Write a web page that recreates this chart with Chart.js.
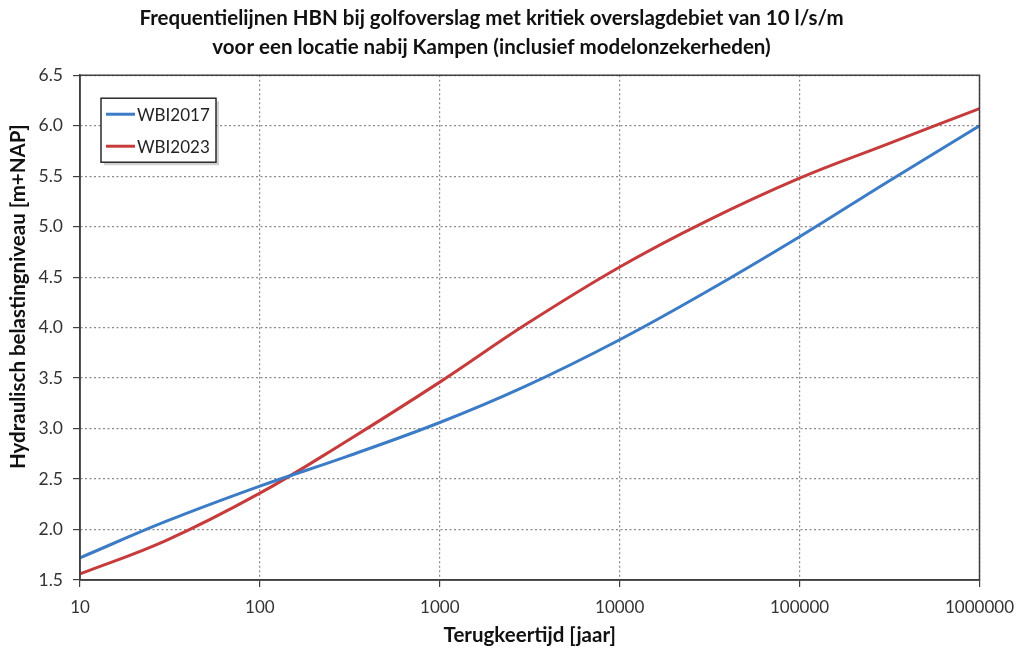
<!DOCTYPE html>
<html>
<head>
<meta charset="utf-8">
<script src="https://cdn.jsdelivr.net/npm/chart.js@4/dist/chart.umd.min.js"></script>
<style>
  html, body { margin: 0; padding: 0; background: #ffffff; }
  #wrap { width: 1024px; height: 652px; }
</style>
</head>
<body>
<div id="wrap"><canvas id="c" width="1024" height="652"></canvas></div>
<script>
// Return periods (years) at which the curves are sampled
const returnPeriods = [10, 30, 100, 300, 1000, 3000, 10000, 30000, 100000, 300000, 1000000];
// Hydraulic load level [m+NAP]
const wbi2017 = [1.72, 2.08, 2.43, 2.72, 3.06, 3.42, 3.88, 4.35, 4.90, 5.43, 6.00];
const wbi2023 = [1.56, 1.89, 2.36, 2.87, 3.46, 4.03, 4.60, 5.05, 5.48, 5.81, 6.17];
const seriesNames = ['WBI2017', 'WBI2023'];
const xTickValues = [10, 100, 1000, 10000, 100000, 1000000];
const yMin = 1.5, yMax = 6.5, yStep = 0.5;

const titleLines = ['Frequentielijnen HBN bij golfoverslag met kritiek overslagdebiet van 10 l/s/m',
                    'voor een locatie nabij Kampen (inclusief modelonzekerheden)'];
const xTitle = 'Terugkeertijd [jaar]';
const yTitle = 'Hydraulisch belastingniveau [m+NAP]';

const FONT = "Lato, 'Open Sans', 'DejaVu Sans', sans-serif";
const frameColor = '#3f3f3f';

function toPoints(vals) {
  return returnPeriods.map((x, i) => ({ x: x, y: vals[i] }));
}

// Closed frame around the plot area
const framePlugin = {
  id: 'frame',
  afterDraw(chart) {
    const a = chart.chartArea, ctx = chart.ctx;
    ctx.save();
    ctx.strokeStyle = frameColor;
    ctx.lineWidth = 1.5;
    ctx.strokeRect(a.left, a.top, a.right - a.left, a.bottom - a.top);
    ctx.restore();
  }
};

// Vertical axis title, placed a little above the middle of the plot
const yTitlePlugin = {
  id: 'yTitle',
  afterDraw(chart) {
    const a = chart.chartArea, ctx = chart.ctx;
    ctx.save();
    ctx.translate(18, (a.top + a.bottom) / 2 - 31);
    ctx.rotate(-Math.PI / 2);
    ctx.fillStyle = '#111111';
    ctx.font = 'bold 20.5px ' + FONT;
    ctx.textAlign = 'center';
    ctx.textBaseline = 'middle';
    ctx.fillText(yTitle, 0, 0);
    ctx.restore();
  }
};

// Boxed legend in the upper-left corner of the plot
const boxLegendPlugin = {
  id: 'boxLegend',
  afterDraw(chart) {
    const a = chart.chartArea, ctx = chart.ctx;
    const x0 = a.left + 21, y0 = a.top + 23, w = 115, h = 64;
    ctx.save();
    ctx.fillStyle = 'rgba(0,0,0,0.18)';
    ctx.fillRect(x0 + 3, y0 + 3, w, h);
    ctx.fillStyle = '#ffffff';
    ctx.fillRect(x0, y0, w, h);
    ctx.strokeStyle = '#2b2b2b';
    ctx.lineWidth = 1.5;
    ctx.strokeRect(x0, y0, w, h);
    chart.data.datasets.forEach((ds, i) => {
      const yy = y0 + 16 + i * 32;
      ctx.strokeStyle = ds.borderColor;
      ctx.lineWidth = 3;
      ctx.beginPath();
      ctx.moveTo(x0 + 5, yy);
      ctx.lineTo(x0 + 34, yy);
      ctx.stroke();
      ctx.fillStyle = '#222222';
      ctx.font = '17px ' + FONT;
      ctx.textBaseline = 'middle';
      ctx.textAlign = 'left';
      ctx.fillText(ds.label, x0 + 36, yy + 1);
    });
    ctx.restore();
  }
};

const gridOpts = {
  color: '#8a8a8a', lineWidth: 1.2,
  tickLength: 7, tickColor: frameColor, tickWidth: 1.2, tickBorderDash: []
};
const borderOpts = { display: true, color: frameColor, width: 1.5, dash: [2, 2.5] };

new Chart(document.getElementById('c'), {
  type: 'line',
  data: {
    datasets: [
      { label: seriesNames[0], data: toPoints(wbi2017), borderColor: '#3c7bc6', borderWidth: 3,
        pointRadius: 0, tension: 0.4, fill: false },
      { label: seriesNames[1], data: toPoints(wbi2023), borderColor: '#c63c3c', borderWidth: 3,
        pointRadius: 0, tension: 0.4, fill: false }
    ]
  },
  options: {
    responsive: false,
    animation: false,
    devicePixelRatio: 1,
    layout: { padding: { top: 0, left: 0, right: 41, bottom: 0 } },
    plugins: {
      legend: { display: false },
      tooltip: { enabled: false },
      title: {
        display: true,
        text: titleLines,
        color: '#111111',
        font: { family: FONT, size: 20.5, weight: 'bold', lineHeight: 1.42 },
        padding: { top: 4, bottom: 13 }
      }
    },
    scales: {
      x: {
        type: 'logarithmic',
        min: 10, max: 1000000,
        afterBuildTicks(scale) { scale.ticks = xTickValues.map(v => ({ value: v })); },
        afterFit(scale) { scale.height = 72; },
        ticks: {
          color: '#333333', font: { family: FONT, size: 17 }, padding: 10,
          maxRotation: 0, autoSkip: false,
          callback: v => String(v)
        },
        grid: gridOpts,
        border: borderOpts,
        title: {
          display: true, text: xTitle, color: '#111111',
          font: { family: FONT, size: 20.5, weight: 'bold' }, padding: { top: 9 }
        }
      },
      y: {
        type: 'linear',
        min: yMin, max: yMax,
        afterFit(scale) { scale.width = 80; },
        ticks: {
          stepSize: yStep, color: '#333333', font: { family: FONT, size: 17.5 }, padding: 10,
          callback: v => Number(v).toFixed(1)
        },
        grid: gridOpts,
        border: borderOpts,
        title: { display: false }
      }
    }
  },
  plugins: [framePlugin, boxLegendPlugin, yTitlePlugin]
});
</script>
</body>
</html>
